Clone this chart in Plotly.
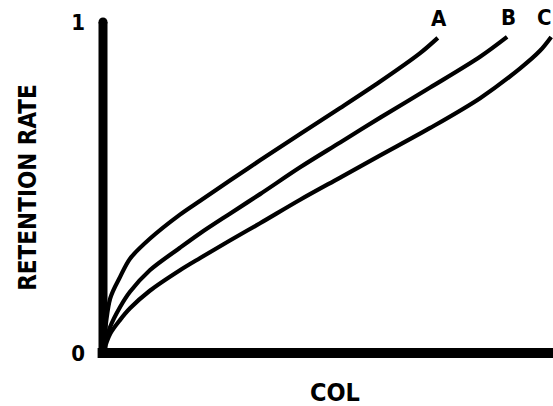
import plotly.graph_objects as go

# Data (COL normalised 0..1, retention rate 0..1)
col_A = [0, 0.016, 0.038, 0.060, 0.104, 0.171, 0.216, 0.282, 0.349, 0.438, 0.527, 0.616, 0.704, 0.744]
ret_A = [0, 0.165, 0.230, 0.285, 0.345, 0.418, 0.460, 0.521, 0.582, 0.662, 0.740, 0.820, 0.905, 0.952]

col_B = [0, 0.016, 0.038, 0.060, 0.104, 0.171, 0.216, 0.282, 0.349, 0.438, 0.527, 0.616, 0.727, 0.838, 0.898]
ret_B = [0, 0.079, 0.139, 0.185, 0.250, 0.318, 0.362, 0.421, 0.480, 0.561, 0.636, 0.711, 0.802, 0.895, 0.955]

col_C = [0, 0.016, 0.038, 0.060, 0.104, 0.171, 0.216, 0.282, 0.349, 0.438, 0.527, 0.616, 0.727, 0.838, 0.927, 0.971, 0.996]
ret_C = [0, 0.058, 0.100, 0.135, 0.188, 0.250, 0.287, 0.340, 0.392, 0.463, 0.530, 0.597, 0.680, 0.770, 0.860, 0.913, 0.955]

series = [("A", col_A, ret_A), ("B", col_B, ret_B), ("C", col_C, ret_C)]

y_tickvals = [0, 1]
y_ticktext = ["0", "1"]

FONT = "DejaVu Sans Condensed, DejaVu Sans, sans-serif"

fig = go.Figure()
for name, xs, ys in series:
    fig.add_trace(go.Scatter(x=xs, y=ys, mode="lines", name=name,
                             line=dict(color="black", width=4.2, shape="spline", smoothing=0.9),
                             hoverinfo="skip", showlegend=False, cliponaxis=False))
    last = name == series[-1][0]
    fig.add_annotation(x=xs[-1], y=ys[-1], text="<b>%s</b>" % name, showarrow=False,
                       xanchor="right" if last else "center", xshift=3 if last else 1,
                       yanchor="bottom", yshift=5,
                       font=dict(family=FONT, size=22, color="black"))

# x-axis title, placed as in the reference (slightly right of centre)
fig.add_annotation(xref="paper", yref="paper", x=0.516, y=-0.118, text="<b>COL</b>",
                   showarrow=False, xanchor="center", yanchor="middle",
                   font=dict(family=FONT, size=25, color="black"))

# thick axis lines (drawn through the origin, like the reference)
fig.add_shape(type="line", xref="paper", yref="paper", x0=-0.012, x1=1.0, y0=0, y1=0,
              line=dict(color="black", width=10), layer="above")
fig.add_shape(type="line", xref="paper", yref="paper", x0=0, x1=0, y0=0, y1=1,
              line=dict(color="black", width=9), layer="above")
fig.add_shape(type="circle", xref="paper", yref="paper", xsizemode="pixel", ysizemode="pixel",
              xanchor=0, yanchor=1, x0=-4.5, x1=4.5, y0=-4.5, y1=4.5,
              fillcolor="black", line=dict(width=0), layer="above")

fig.update_layout(
    width=553, height=406,
    margin=dict(l=103, r=0, t=22, b=53),
    paper_bgcolor="white", plot_bgcolor="white",
    font=dict(family=FONT, color="black"),
    xaxis=dict(range=[0, 1], showgrid=False, zeroline=False, showticklabels=False,
               ticks="", showline=False),
    yaxis=dict(range=[0, 1], showgrid=False, zeroline=False, tickvals=y_tickvals,
               ticktext=["<b>%s</b>" % t for t in y_ticktext], ticks="",
               ticklabelstandoff=17,
               tickfont=dict(family=FONT, size=22),
               showline=False,
               title=dict(text="<b>RETENTION RATE</b>", font=dict(family=FONT, size=24), standoff=27)),
)

fig.write_html("out.html", config={"displayModeBar": False},
               post_script="document.body.style.margin='0px';")
